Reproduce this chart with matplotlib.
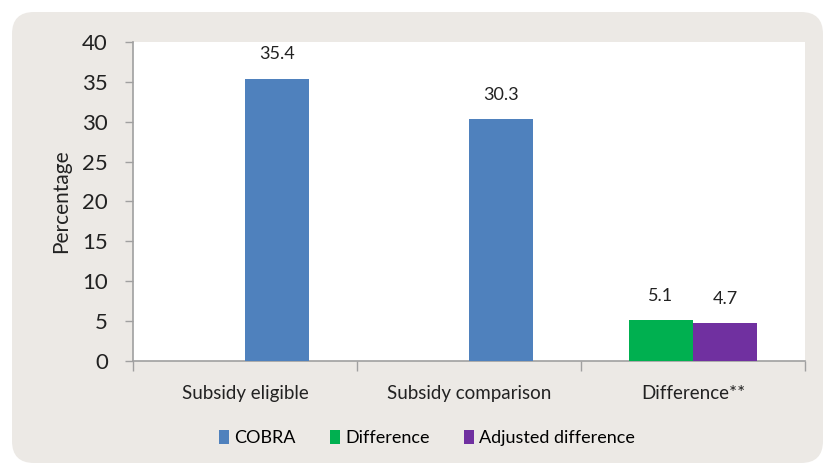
import numpy as np
import matplotlib.pyplot as plt
from matplotlib.patches import FancyBboxPatch

# --- Data ---
categories = ["Subsidy eligible", "Subsidy comparison", "Difference**"]
cobra = [35.4, 30.3]            # first two categories
difference = [5.1]              # third category, left slot
adjusted_difference = [4.7]     # third category, right slot
y_ticks = [0, 5, 10, 15, 20, 25, 30, 35, 40]

blue, green, purple = "#4F81BD", "#00B050", "#7030A0"
axis_grey = "#A0A0A0"

plt.rcParams['font.family'] = ['Lato', 'DejaVu Sans']

fig = plt.figure(figsize=(8.26, 4.65), dpi=100)
fig.patch.set_facecolor("white")

# rounded beige panel behind the chart (in inches so the corners stay round)
panel = FancyBboxPatch((0.12, 0.02), 8.11, 4.51,
                       boxstyle="round,pad=0,rounding_size=0.22",
                       transform=fig.dpi_scale_trans,
                       facecolor="#ECE9E5", edgecolor="none", zorder=-10)
fig.patches.append(panel)

ax = fig.add_axes([0.161, 0.2237, 0.8136, 0.686])
ax.set_facecolor("white")

w = 1 / 3.5
x = np.arange(len(categories))

b1 = ax.bar(x[:2] + w / 2, cobra, width=w, color=blue, label="COBRA", zorder=3)
b2 = ax.bar(x[2:] - w / 2, difference, width=w, color=green, label="Difference", zorder=3)
b3 = ax.bar(x[2:] + w / 2, adjusted_difference, width=w, color=purple,
            label="Adjusted difference", zorder=3)

for bars in (b1, b2, b3):
    for rect in bars:
        h = rect.get_height()
        ax.annotate(f"{h:.1f}", (rect.get_x() + rect.get_width() / 2, h),
                    xytext=(0, 12), textcoords="offset points",
                    ha="center", va="bottom", fontsize=13, color="#222222")

ax.set_xlim(-0.5, 2.5)
ax.set_ylim(0, 40)
ax.set_yticks(y_ticks)
ax.tick_params(axis="y", labelsize=16, length=6, width=1, color=axis_grey,
               labelcolor="#222222", pad=12)

# category labels between boundary ticks
ax.set_xticks([-0.5, 0.5, 1.5, 2.5])
ax.set_xticklabels([])
ax.set_xticks(x, minor=True)
ax.set_xticklabels(categories, minor=True)
ax.tick_params(axis="x", which="major", length=7, width=1, color=axis_grey)
ax.tick_params(axis="x", which="minor", length=0, labelsize=13.5,
               labelcolor="#222222", pad=17)

for s in ("top", "right"):
    ax.spines[s].set_visible(False)
for s in ("left", "bottom"):
    ax.spines[s].set_color(axis_grey)
    ax.spines[s].set_linewidth(1.2)

ax.set_ylabel("Percentage", fontsize=15, color="#222222", labelpad=8)

fig.legend(handles=[b1, b2, b3], loc="center", bbox_to_anchor=(0.517, 0.058),
           ncol=3, frameon=False, fontsize=13, handlelength=0.55,
           handleheight=0.85, handletextpad=0.3, columnspacing=1.9)

plt.savefig("out.png", dpi=100)
